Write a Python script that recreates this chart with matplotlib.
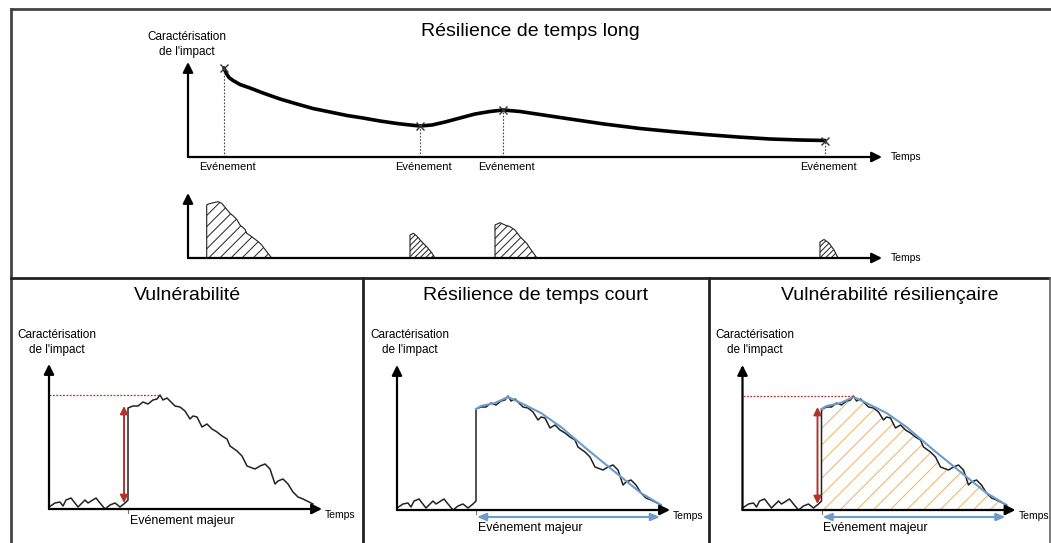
import matplotlib.pyplot as plt
from matplotlib.lines import Line2D

plt.rcParams['font.family'] = ['Liberation Sans', 'DejaVu Sans']

W, H = 1051, 543

# --- long-term resilience: impact level over time (axis units) ---
long_t = [36, 38, 41, 45, 52, 62, 75, 92, 109, 125, 142, 159, 175, 192, 209,
          222, 232, 244, 257, 272, 287, 302, 315, 332, 352, 382, 416, 452,
          483, 517, 550, 582, 612, 637]
long_v = [89, 84, 79.5, 76.5, 72.5, 69, 64, 58, 53, 48.5, 45, 41.5, 39, 36,
          33.5, 32, 31, 32, 35, 39, 43, 45.5, 47, 45.5, 42.5, 38, 33, 28.5,
          25.5, 22.5, 20, 18, 17, 16.5]
event_t = [36, 232, 315, 637]
event_v = [89, 31, 47, 16.5]

# hatched footprints of each event (time, height)
foot1_t = [18.7, 18.7, 20.3, 25.3, 30.3, 33.7, 37, 42, 45.3, 48.7, 52, 57,
           58.7, 63.7, 70.3, 73.7, 78.7, 83.7]
foot1_h = [0, 53, 54, 55.3, 56.3, 54.7, 50.7, 44.7, 42, 38.7, 33, 28.7,
           24.7, 21.3, 16.3, 13, 6.3, 0]
foot2_t = [222, 222, 225.3, 228.7, 233.7, 238.7, 243.7, 247]
foot2_h = [0, 23, 24.7, 22, 16.3, 11.3, 5.3, 0]
foot3_t = [307, 307, 312, 317, 322, 327, 332, 338.7, 342, 349]
foot3_h = [0, 33, 35.3, 33, 31.3, 28, 21.3, 14.7, 9.7, 0]
foot4_t = [632, 632, 636, 641, 646, 650]
foot4_h = [0, 16, 18.5, 15, 8, 0]

# --- major event: impact curve shared by the three lower panels ---
crisis_t = [0, 6, 11, 14, 17, 22, 29, 36, 39, 47, 51, 56, 61, 66, 71, 76,
            79, 79, 84, 89, 94, 99, 104, 108, 111, 114, 118, 121, 126,
            131, 136, 141, 144, 148, 153, 158, 163, 168, 173, 178, 181, 188,
            193, 198, 206, 211, 216, 221, 226, 229, 234, 239, 244, 249, 254,
            264]
crisis_h = [2, 6, 7, 3, 9, 11, 2, 9, 6, 11, 6, 0, 4, 6, 2, 6,
            9, 101, 103, 103, 107, 105, 109, 110, 114, 109, 111, 108, 103,
            102, 98, 90, 93, 92, 82, 85, 80, 77, 73, 70, 63, 58,
            53, 43, 40, 43, 45, 40, 25, 28, 30, 25, 17, 12, 10,
            5]
trend_t = [79, 84, 98, 111, 124, 144, 164, 191, 218, 244, 264]
trend_h = [101, 104, 107, 113, 107, 97, 83, 60, 38, 17, 5]
event_major = 79
peak_t, peak_h = 111, 114
jump_lo, jump_hi = 6, 103

BLUE = '#6c9ccb'
RED = '#b3322c'
ORANGE = '#eeb25e'

fig = plt.figure(figsize=(W / 100, H / 100), dpi=100)


def px_axes(x0, y0, w, h):
    # axes with its origin at pixel (x0, y0), one unit per pixel
    ax = fig.add_axes([x0 / W, 1 - y0 / H, w / W, h / H])
    ax.set_xlim(0, w)
    ax.set_ylim(0, h)
    ax.axis('off')
    return ax


def arrow_axes(ax, w, h):
    kw = dict(arrowstyle='-|>,head_length=0.6,head_width=0.3', color='black',
              lw=1.6, shrinkA=0, shrinkB=0, mutation_scale=10)
    ax.annotate('', xy=(w, 0), xytext=(0, 0), arrowprops=kw, annotation_clip=False)
    ax.annotate('', xy=(0, h), xytext=(0, 0), arrowprops=kw, annotation_clip=False)


def fig_text(x, y, s, **kw):
    fig.text(x / W, 1 - y / H, s, **kw)


def frame(xs, ys, lw=2.0, color='#222222'):
    fig.add_artist(Line2D([x / W for x in xs], [1 - y / H for y in ys],
                          color=color, lw=lw, transform=fig.transFigure))


# panel frames
frame([11, W], [9, 9], color='#444444')
frame([11, 11], [9, H], color='#444444')
frame([11, W], [278, 278])
frame([363, 363], [278, H])
frame([709, 709], [278, H])
frame([1049.5, 1049.5], [278, H], lw=1.2, color='#666666')

ylab = "Caractérisation\nde l'impact"

# ---------------- top: long-term resilience ----------------
fig_text(530, 32, 'Résilience de temps long', fontsize=14, ha='center', va='center')
fig_text(187, 44.5, ylab, fontsize=8.5, ha='center', va='center', linespacing=1.3)

ax = px_axes(188, 157, 694, 95)
arrow_axes(ax, 694, 95)
ax.plot(long_t, long_v, color='black', lw=2.6, solid_capstyle='round',
        solid_joinstyle='round', clip_on=False)
ax.plot(event_t, event_v, 'x', color='#333333', ms=5.5, mew=1.0, clip_on=False)
for t, v in zip(event_t, event_v):
    ax.plot([t, t], [0, v], color='#444444', lw=0.8, ls=(0, (1.5, 1.5)))
    ax.text(t + 3, -10, 'Evénement', fontsize=8, ha='center', va='center')
ax.text(703, 0, 'Temps', fontsize=7.5, ha='left', va='center')

ax2 = px_axes(188, 258, 694, 65)
arrow_axes(ax2, 694, 65)
plt.rcParams['hatch.linewidth'] = 0.7
for ft, fh, hatch in [(foot1_t, foot1_h, '///'), (foot2_t, foot2_h, '//////'),
                      (foot3_t, foot3_h, '////'), (foot4_t, foot4_h, '//////')]:
    ax2.fill(ft, fh, facecolor='white', edgecolor='#222222', lw=0.8, hatch=hatch)
ax2.text(703, 0, 'Temps', fontsize=7.5, ha='left', va='center')

# ---------------- bottom panels ----------------
panels = [
    (49, 509, 'Vulnérabilité', 187, 56.5, False, True, False),
    (397, 510, 'Résilience de temps court', 536, 409.5, True, False, False),
    (742.5, 510, 'Vulnérabilité résiliençaire', 890, 754.5, True, True, True),
]
for x0, y0, title, tx, lx, blue, red, hatched in panels:
    fig_text(tx, 295, title, fontsize=14, ha='center', va='center')
    fig_text(lx, 342.5, ylab, fontsize=8.5, ha='center', va='center', linespacing=1.3)
    a = px_axes(x0, y0, 273, 145)
    arrow_axes(a, 273, 145)
    if hatched:
        plt.rcParams['hatch.color'] = ORANGE
        a.fill_between(crisis_t[17:], crisis_h[17:], 0, facecolor='none',
                       edgecolor=ORANGE, lw=0, hatch='//')
    a.plot(crisis_t, crisis_h, color='#222222', lw=1.1, clip_on=False)
    a.plot([event_major, event_major], [0, -4], color='#777777', lw=0.8, clip_on=False)
    if blue:
        a.plot(trend_t, trend_h, color=BLUE, lw=1.5, clip_on=False)
        a.annotate('', xy=(263, -7), xytext=(event_major + 1, -7),
                   arrowprops=dict(arrowstyle='<|-|>,head_length=0.6,head_width=0.25',
                                   color=BLUE, lw=1.5, shrinkA=0, shrinkB=0,
                                   mutation_scale=9), annotation_clip=False)
        a.text(133, -18, 'Evénement majeur', fontsize=9, ha='center', va='center')
    else:
        a.text(133, -12, 'Evénement majeur', fontsize=9, ha='center', va='center')
    if red:
        a.plot([0, peak_t], [peak_h, peak_h], color=RED, lw=0.9, ls=(0, (1.5, 1.2)))
        a.annotate('', xy=(75, jump_hi), xytext=(75, jump_lo),
                   arrowprops=dict(arrowstyle='<|-|>,head_length=0.5,head_width=0.25',
                                   color=RED, lw=1.4, shrinkA=0, shrinkB=0,
                                   mutation_scale=9), annotation_clip=False)
    a.text(276, -6, 'Temps', fontsize=7.5, ha='left', va='center')

fig.savefig('out.png', dpi=100)
